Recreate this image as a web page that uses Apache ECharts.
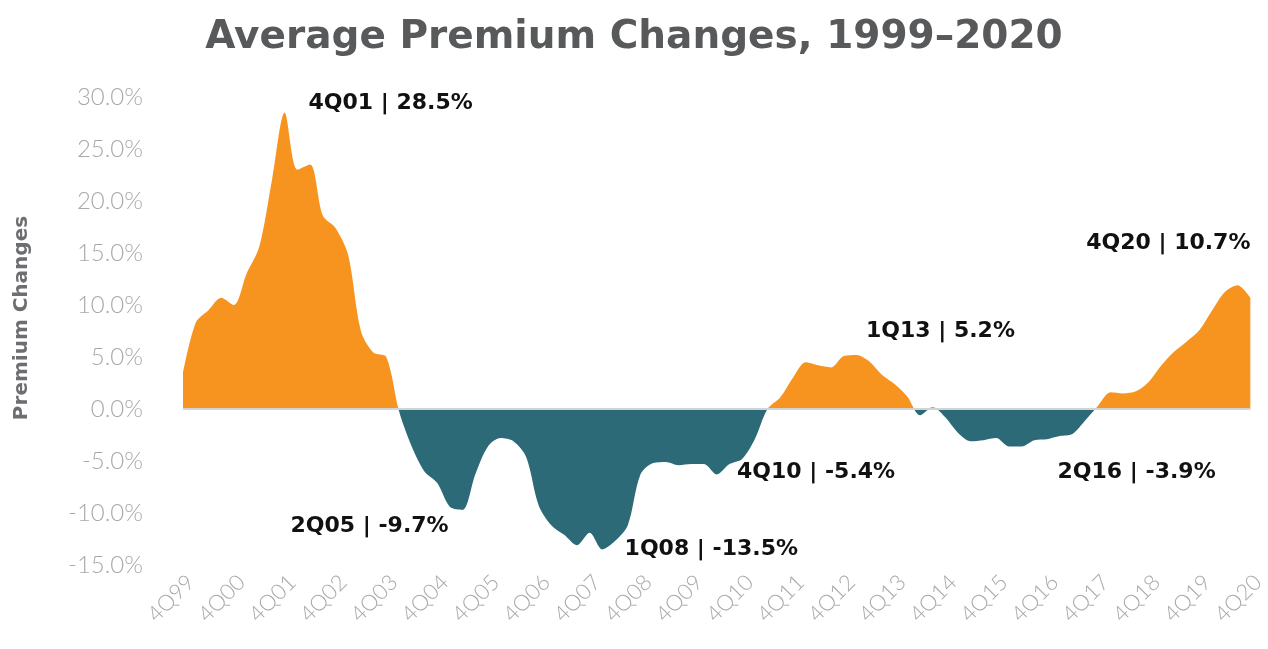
<!DOCTYPE html>
<html>
<head>
<meta charset="utf-8">
<script src="https://cdn.jsdelivr.net/npm/echarts@6/dist/echarts.min.js"></script>
<style>
  html, body { margin: 0; padding: 0; background: #ffffff; }
  #chart { width: 1268px; height: 649px; }
</style>
</head>
<body>
<div id="chart"></div>
<script>
// Quarter categories, 4Q99 .. 4Q20
const quarters = [
  '4Q99',
  '1Q00','2Q00','3Q00','4Q00',
  '1Q01','2Q01','3Q01','4Q01',
  '1Q02','2Q02','3Q02','4Q02',
  '1Q03','2Q03','3Q03','4Q03',
  '1Q04','2Q04','3Q04','4Q04',
  '1Q05','2Q05','3Q05','4Q05',
  '1Q06','2Q06','3Q06','4Q06',
  '1Q07','2Q07','3Q07','4Q07',
  '1Q08','2Q08','3Q08','4Q08',
  '1Q09','2Q09','3Q09','4Q09',
  '1Q10','2Q10','3Q10','4Q10',
  '1Q11','2Q11','3Q11','4Q11',
  '1Q12','2Q12','3Q12','4Q12',
  '1Q13','2Q13','3Q13','4Q13',
  '1Q14','2Q14','3Q14','4Q14',
  '1Q15','2Q15','3Q15','4Q15',
  '1Q16','2Q16','3Q16','4Q16',
  '1Q17','2Q17','3Q17','4Q17',
  '1Q18','2Q18','3Q18','4Q18',
  '1Q19','2Q19','3Q19','4Q19',
  '1Q20','2Q20','3Q20','4Q20'
];

// Average premium change (%) per quarter
const premiumChange = [
  3.5,
  8.3, 9.5, 10.7, 10.0,
  13.0, 15.6, 22.0, 28.5,
  23.0, 23.5, 18.6, 17.4,
  14.8, 7.5, 5.4, 5.0,
  -0.2, -3.6, -6.0, -7.1,
  -9.4, -9.7, -6.3, -3.6,
  -2.8, -3.1, -4.6, -9.3,
  -11.2, -12.1, -13.1, -11.9,
  -13.5, -12.7, -11.2, -6.3,
  -5.2, -5.1, -5.4, -5.3,
  -5.3, -6.3, -5.3, -4.8,
  -2.9, 0.0, 1.1, 3.0,
  4.5, 4.2, 4.0, 5.1,
  5.2, 4.6, 3.3, 2.4,
  1.2, -0.6, 0.2, -0.8,
  -2.3, -3.1, -3.0, -2.8,
  -3.6, -3.6, -3.0, -2.9,
  -2.6, -2.4, -1.1, 0.3,
  1.6, 1.5, 1.7, 2.6,
  4.2, 5.5, 6.5, 7.6,
  9.5, 11.25, 11.9, 10.7
];

// Y axis tick values
const yTicks = { min: -15, max: 30, step: 5 };

// Annotations
const annoQuarters = ['4Q01', '2Q05', '1Q08', '4Q10', '1Q13', '2Q16', '4Q20'];
const annoLabels = ['4Q01 | 28.5%', '2Q05 | -9.7%', '1Q08 | -13.5%', '4Q10 | -5.4%', '1Q13 | 5.2%', '2Q16 | -3.9%', '4Q20 | 10.7%'];
const annoOffsets = [[106, -9], [-93, 16], [109, 0], [74, 13], [84, -24], [115, 26], [-82, -54]];

const ORANGE = '#F7941F';
const TEAL = '#2C6A77';

const chart = echarts.init(document.getElementById('chart'), null, { renderer: 'canvas' });

const markData = annoQuarters.map((q, k) => {
  const idx = quarters.indexOf(q);
  return {
    coord: [idx, premiumChange[idx]],
    label: { offset: annoOffsets[k], formatter: annoLabels[k] }
  };
});

chart.setOption({
  animation: false,
  backgroundColor: '#ffffff',
  title: {
    text: 'Average Premium Changes, 1999\u20132020',
    left: 'center',
    top: 13,
    textStyle: {
      fontFamily: 'DejaVu Sans',
      fontWeight: 'bold',
      fontSize: 39,
      color: '#58595B'
    }
  },
  grid: { left: 183, right: 16, top: 97, bottom: 84, containLabel: false },
  xAxis: {
    type: 'category',
    data: quarters,
    boundaryGap: false,
    axisLine: { show: false, onZero: false },
    axisTick: { show: false },
    splitLine: { show: false },
    axisLabel: {
      interval: 3,
      rotate: 45,
      margin: 6,
      verticalAlign: 'top',
      color: '#A7A9AC',
      fontFamily: 'Lato',
      fontWeight: 300,
      fontSize: 22
    }
  },
  yAxis: {
    type: 'value',
    min: yTicks.min,
    max: yTicks.max,
    interval: yTicks.step,
    axisLine: { show: false },
    axisTick: { show: false },
    splitLine: { show: false },
    axisLabel: {
      margin: 40,
      color: '#A7A9AC',
      fontFamily: 'Lato',
      fontWeight: 300,
      fontSize: 24,
      formatter: v => v.toFixed(1) + '%'
    }
  },
  visualMap: {
    show: false,
    type: 'piecewise',
    dimension: 1,
    seriesIndex: 0,
    pieces: [
      { gt: 0, lte: 40, color: ORANGE },
      { gt: -20, lte: 0, color: TEAL }
    ]
  },
  graphic: [{
    type: 'text',
    rotation: Math.PI / 2,
    x: 22,
    y: 318,
    style: {
      text: 'Premium Changes',
      fill: '#6D6E71',
      font: 'bold 20px "DejaVu Sans"',
      textAlign: 'center',
      textVerticalAlign: 'middle'
    }
  }],
  series: [{
    type: 'line',
    data: premiumChange,
    smooth: 0.3,
    showSymbol: false,
    lineStyle: { width: 0 },
    areaStyle: { opacity: 1 },
    markLine: {
      silent: true,
      symbol: ['none', 'none'],
      label: { show: false },
      lineStyle: { color: '#D1D3D4', width: 2, type: 'solid' },
      data: [{ yAxis: 0 }]
    },
    markPoint: {
      symbol: 'circle',
      symbolSize: 1,
      itemStyle: { color: 'rgba(0,0,0,0)' },
      label: {
        show: true,
        position: 'inside',
        align: 'center',
        verticalAlign: 'middle',
        color: '#111111',
        fontFamily: 'DejaVu Sans',
        fontWeight: 'bold',
        fontSize: 22
      },
      data: markData
    }
  }]
});
</script>
</body>
</html>
